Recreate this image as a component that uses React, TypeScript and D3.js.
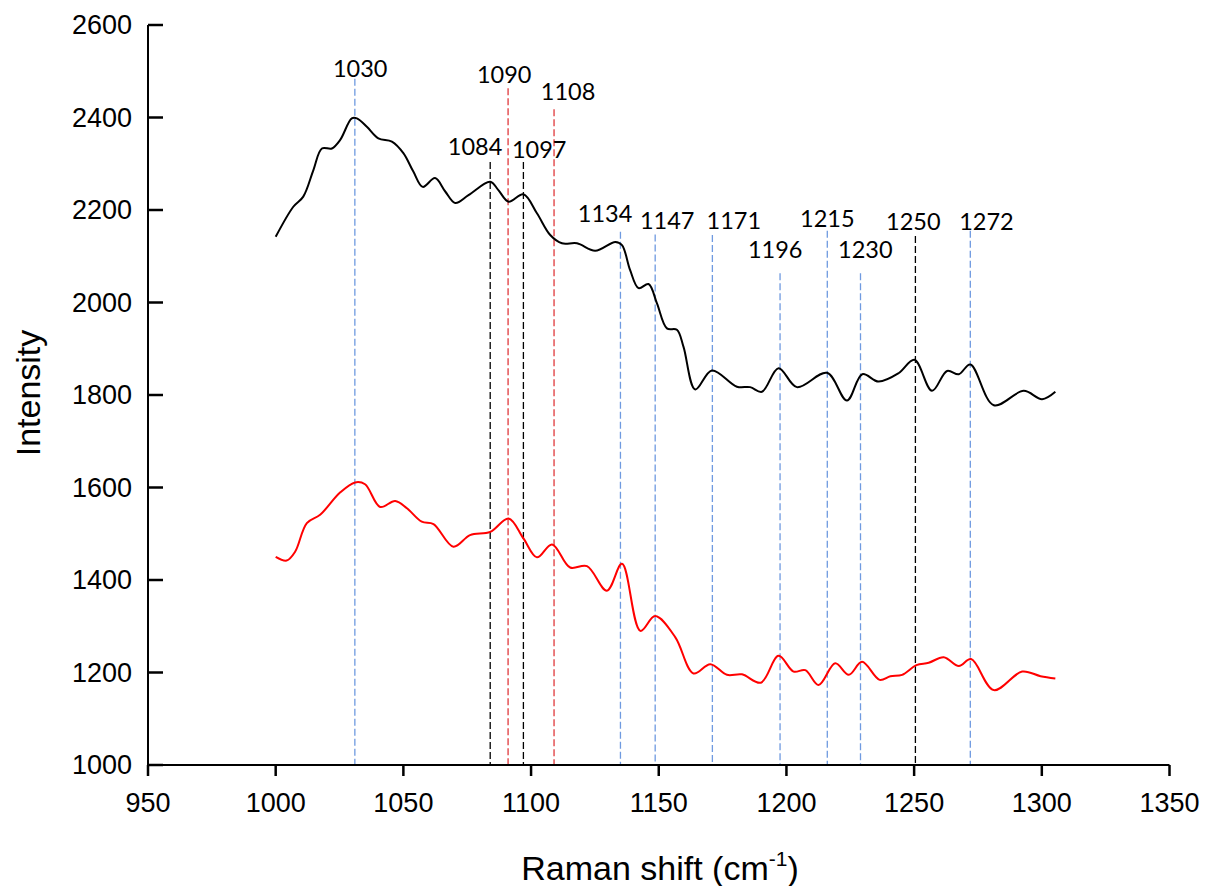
import React from 'react';
import * as d3 from 'd3';

// spectra: [Raman shift, intensity]
const blackSpectrum: [number, number][] = [
  [1000, 2142], [1006.9, 2207], [1010.8, 2229], [1014.8, 2287], [1018.1, 2333],
  [1022, 2333], [1025.2, 2351], [1029.8, 2398], [1031.8, 2398], [1035.7, 2380],
  [1040.2, 2355], [1045.5, 2348], [1050, 2323], [1053.9, 2283], [1057.6, 2250],
  [1062.4, 2269], [1066.4, 2240], [1070.3, 2215], [1075.5, 2232], [1084, 2261],
  [1087.2, 2243], [1091.2, 2218], [1097, 2234], [1102.3, 2193], [1107.5, 2146],
  [1112.1, 2128], [1118, 2128], [1125.1, 2112], [1133, 2131], [1135.6, 2124],
  [1138.8, 2070], [1142.1, 2031], [1146, 2040], [1149.3, 1998], [1153.2, 1944],
  [1157.1, 1941], [1159.7, 1904], [1164.3, 1812], [1170.8, 1853], [1180.6, 1818],
  [1185.8, 1817], [1190.4, 1807], [1196.9, 1858], [1204.1, 1817], [1215.9, 1848],
  [1223.7, 1788], [1229.7, 1845], [1236.1, 1829], [1243.9, 1847], [1250.1, 1876],
  [1257, 1809], [1262.9, 1852], [1267.5, 1845], [1272, 1866], [1281.2, 1778],
  [1292.9, 1809], [1300.1, 1791], [1305.3, 1807]
];

const redSpectrum: [number, number][] = [
  [1000, 1450], [1004.3, 1442], [1007.6, 1461], [1012.2, 1523], [1017.4, 1541],
  [1025.2, 1589], [1031.1, 1611], [1035, 1607], [1040.9, 1558], [1046.8, 1571],
  [1051.4, 1555], [1057.2, 1526], [1061.8, 1521], [1069.6, 1472], [1076.1, 1497],
  [1084, 1504], [1091.2, 1533], [1097, 1490], [1102.3, 1449], [1108.2, 1477],
  [1115.3, 1427], [1121.9, 1430], [1129.7, 1377], [1135.6, 1435], [1142.8, 1290],
  [1148.6, 1322], [1156.5, 1276], [1163.6, 1198], [1170.2, 1218], [1176.7, 1195],
  [1182.6, 1196], [1190, 1178], [1196.9, 1236], [1202.8, 1202], [1207.4, 1205],
  [1212.6, 1173], [1219.1, 1220], [1224.4, 1195], [1229.6, 1223], [1236.5, 1184],
  [1240.7, 1192], [1245.3, 1195], [1250.9, 1216], [1255.7, 1221], [1261.6, 1233],
  [1267.5, 1214], [1272.3, 1229], [1281.2, 1162], [1292.3, 1202], [1299.5, 1192],
  [1305.3, 1187]
];

// marked peaks
const peakLabels = ['1030', '1084', '1090', '1097', '1108', '1134', '1147', '1171', '1196', '1215', '1230', '1250', '1272'];
const peakShift = [1031, 1084, 1091, 1097, 1109, 1135, 1148.6, 1171, 1197.5, 1216, 1229, 1250.5, 1272];
const peakGroup = ['blue', 'black', 'red', 'black', 'red', 'blue', 'blue', 'blue', 'blue', 'blue', 'blue', 'black', 'blue'];
const peakLineTop = [2484, 2304, 2463, 2304, 2418, 2153, 2147, 2146, 2063, 2155, 2063, 2144, 2155];
const peakLabelShift = [1033.1, 1078.1, 1089.5, 1103.2, 1114.5, 1129, 1153.3, 1179.4, 1195.6, 1216, 1230.9, 1249.7, 1278.3];
const peakLabelLevel = [2488, 2319, 2474, 2312, 2438, 2175, 2160, 2160, 2096, 2164, 2096, 2157, 2157];

const xTicks = [950, 1000, 1050, 1100, 1150, 1200, 1250, 1300, 1350];
const yTicks = [1000, 1200, 1400, 1600, 1800, 2000, 2200, 2400, 2600];

const groupColor: Record<string, string> = {
  blue: '#6f9ae0',
  black: '#000000',
  red: '#e0393b'
};

const App: React.FC = () => {
  const width = 1205;
  const height = 886;

  const x = d3.scaleLinear().domain([950, 1350]).range([148, 1169.5]);
  const y = d3.scaleLinear().domain([1000, 2600]).range([765, 25]);

  const line = d3.line<[number, number]>()
    .x((d) => x(d[0]))
    .y((d) => y(d[1]))
    .curve(d3.curveCatmullRom.alpha(0.5));

  const axisFont = '"Liberation Sans", Arial, sans-serif';
  const labelFont = 'Lato, "Open Sans", sans-serif';

  return (
    <svg
      width={width}
      height={height}
      style={{ position: 'absolute', left: 0, top: 0, background: '#fff' }}
    >
      {/* peak markers */}
      {peakShift.map((s, i) => (
        <line
          key={'pl' + i}
          x1={x(s)}
          x2={x(s)}
          y1={y(peakLineTop[i])}
          y2={y(1000)}
          stroke={groupColor[peakGroup[i]]}
          strokeWidth={1.3}
          strokeDasharray="7,3"
        />
      ))}
      {peakLabels.map((t, i) => (
        <text
          key={'pt' + i}
          x={x(peakLabelShift[i])}
          y={y(peakLabelLevel[i])}
          textAnchor="middle"
          fontFamily={labelFont}
          fontSize={23.5}
          fill="#000"
        >
          {t}
        </text>
      ))}

      {/* spectra */}
      <path d={line(blackSpectrum) ?? ''} fill="none" stroke="#000" strokeWidth={2} />
      <path d={line(redSpectrum) ?? ''} fill="none" stroke="#ff0000" strokeWidth={2} />

      {/* y axis */}
      <line x1={x(950)} x2={x(950)} y1={y(2600)} y2={y(1000)} stroke="#000" strokeWidth={2} />
      {yTicks.map((v) => (
        <g key={'yt' + v}>
          <line x1={x(950)} x2={x(950) + 15} y1={y(v)} y2={y(v)} stroke="#000" strokeWidth={2.5} />
          <text
            x={132}
            y={y(v)}
            dy="0.35em"
            textAnchor="end"
            fontFamily={axisFont}
            fontSize={27}
            fill="#000"
          >
            {v}
          </text>
        </g>
      ))}

      {/* x axis */}
      <line x1={x(950)} x2={x(1350)} y1={y(1000)} y2={y(1000)} stroke="#000" strokeWidth={2} />
      {xTicks.map((v) => (
        <g key={'xt' + v}>
          <line x1={x(v)} x2={x(v)} y1={y(1000)} y2={y(1000) + 11} stroke="#000" strokeWidth={2.5} />
          <text
            x={x(v)}
            y={812}
            textAnchor="middle"
            fontFamily={axisFont}
            fontSize={27}
            fill="#000"
          >
            {v}
          </text>
        </g>
      ))}

      {/* axis titles */}
      <text
        x={660}
        y={880}
        textAnchor="middle"
        fontFamily={axisFont}
        fontSize={34}
        fill="#000"
      >
        Raman shift (cm
        <tspan fontSize={21} dy={-14}>-1</tspan>
        <tspan dy={14}>)</tspan>
      </text>
      <text
        transform="translate(40,393) rotate(-90)"
        textAnchor="middle"
        fontFamily={axisFont}
        fontSize={34}
        fill="#000"
      >
        Intensity
      </text>
    </svg>
  );
};

export default App;
